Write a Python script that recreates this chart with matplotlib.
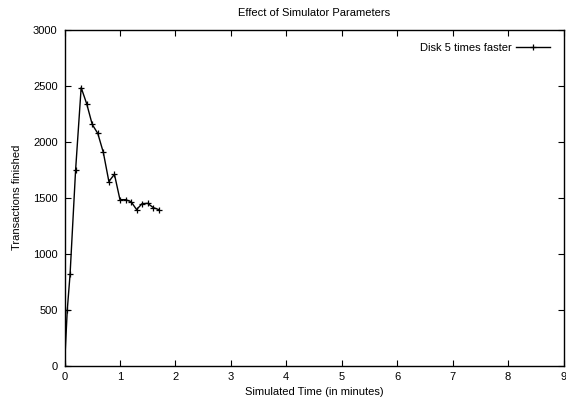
#!/usr/bin/env python3
"""Transactions finished over simulated time, gnuplot-like look."""

import matplotlib
matplotlib.use('Agg')
import matplotlib.pyplot as plt

# Data
sim_minutes = [0.0, 0.05, 0.1, 0.2, 0.3, 0.4, 0.5, 0.6, 0.7, 0.8, 0.9,
               1.0, 1.1, 1.2, 1.3, 1.4, 1.5, 1.6, 1.7]
transactions = [0, 500, 815, 1750, 2485, 2340, 2155, 2075, 1905, 1645, 1710,
                1483, 1483, 1465, 1394, 1448, 1450, 1412, 1394]
series_label = 'Disk 5 times faster'

plt.rcParams['font.family'] = ['Liberation Sans', 'DejaVu Sans']
plt.rcParams['font.size'] = 8

fig = plt.figure(figsize=(5.66, 4.03), dpi=100)
ax = fig.add_axes([0.114, 0.093, 0.8816, 0.8326])

ax.plot(sim_minutes, transactions, color='black', linewidth=1.0,
        marker='+', markersize=5, markeredgewidth=0.9, label=series_label)

ax.set_xlim(0, 9)
ax.set_ylim(0, 3000)
ax.set_xticks(range(0, 10))
ax.set_yticks(range(0, 3001, 500))
ax.tick_params(direction='in', top=True, right=True, length=4, width=0.8,
               labelsize=8, pad=5)
for spine in ax.spines.values():
    spine.set_linewidth(1.0)

ax.set_xlabel('Simulated Time (in minutes)', fontsize=8, labelpad=3)
ax.set_ylabel('Transactions finished', fontsize=8, labelpad=8)
ax.set_title('Effect of Simulator Parameters', fontsize=8, pad=10)

# legend sits a bit inside the top right corner, sample line after the text
ax.legend(loc='upper right', frameon=False, markerfirst=False,
          handlelength=3.0, handletextpad=0.4, fontsize=8,
          bbox_to_anchor=(0.992, 0.99))

fig.savefig('out.png', dpi=100)
